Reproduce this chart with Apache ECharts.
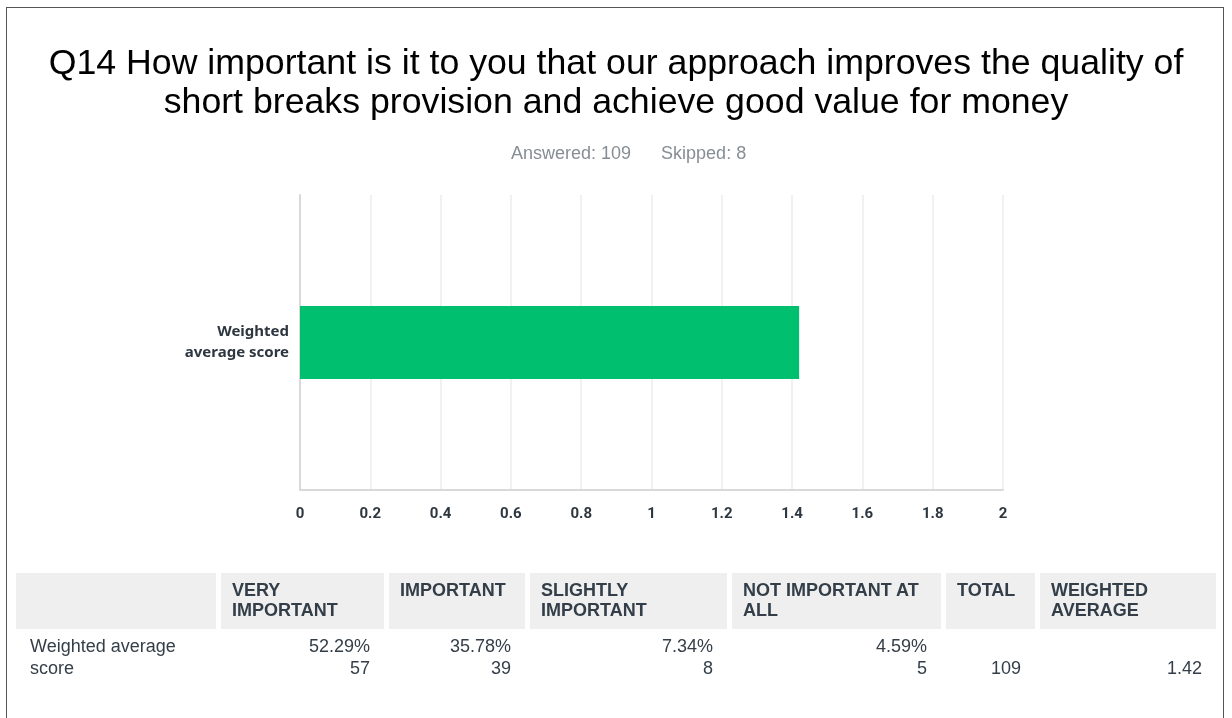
<!DOCTYPE html>
<html>
<head>
<meta charset="utf-8">
<script src="https://cdn.jsdelivr.net/npm/echarts@6/dist/echarts.min.js"></script>
<style>
  html, body { margin: 0; padding: 0; background: #fff; }
  #frame { position: absolute; left: 6px; top: 7px; width: 1216px; height: 720px; border: 1.5px solid #555; border-bottom: none; }
  #chart { position: absolute; left: 0; top: 0; width: 1232px; height: 718px; }
  #tbl { position: absolute; left: 16px; top: 573px; font-family: "Liberation Sans", Arial, sans-serif; font-size: 18px; color: #333e48; }
  .row { display: flex; gap: 5px; }
  .hd div { background: #efefef; height: 56px; box-sizing: border-box; padding: 7px 10px 0 11px; font-weight: bold; line-height: 20px; }
  .bd { margin-top: 6px; }
  .bd div { box-sizing: border-box; padding: 0 14px 0 14px; line-height: 22px; text-align: right; }
  .bd div:first-child { text-align: left; }
</style>
</head>
<body>
<div id="chart"></div>
<div id="frame"></div>
<div id="tbl"></div>
<script>
// chart data
const categories = ['Weighted\naverage score'];
const scores = [1.42];
const xTicks = [0, 0.2, 0.4, 0.6, 0.8, 1, 1.2, 1.4, 1.6, 1.8, 2];

// table data
const columns = ['', 'VERY<br>IMPORTANT', 'IMPORTANT', 'SLIGHTLY<br>IMPORTANT', 'NOT IMPORTANT AT<br>ALL', 'TOTAL', 'WEIGHTED<br>AVERAGE'];
const colWidths = [200, 163, 136, 197, 209, 89, 176];
const rowLabel = 'Weighted average<br>score';
const percents = ['52.29%', '35.78%', '7.34%', '4.59%'];
const counts = [57, 39, 8, 5];
const total = 109;
const weightedAvg = '1.42';

const chart = echarts.init(document.getElementById('chart'));
chart.setOption({
  animation: false,
  title: [{
    text: 'Q14 How important is it to you that our approach improves the quality of\nshort breaks provision and achieve good value for money',
    left: 'center',
    top: 40,
    textStyle: { fontFamily: 'Liberation Sans', fontSize: 35.7, fontWeight: 'normal', color: '#000', lineHeight: 39 }
  }, {
    text: 'Answered: 109      Skipped: 8',
    left: 506,
    top: 140,
    textStyle: { fontFamily: 'Liberation Sans', fontSize: 18, fontWeight: 'normal', color: '#868e94' }
  }],
  grid: { left: 300, right: 229, top: 195, bottom: 228 },
  xAxis: {
    type: 'value',
    min: 0,
    max: 2,
    interval: 0.2,
    axisLine: { show: true, lineStyle: { color: '#d9d9d9', width: 2 } },
    axisTick: { show: false },
    splitLine: { show: true, lineStyle: { color: '#ececec', width: 1.5 } },
    axisLabel: {
      margin: 17,
      fontFamily: 'Roboto',
      fontWeight: 'bold',
      fontSize: 15,
      color: '#2e3740',
      formatter: v => xTicks.includes(+v.toFixed(1)) ? String(+v.toFixed(1)) : ''
    }
  },
  yAxis: {
    type: 'category',
    data: categories,
    axisLine: { show: true, lineStyle: { color: '#d9d9d9', width: 2 } },
    axisTick: { show: false },
    axisLabel: {
      margin: 11,
      fontFamily: 'Noto Sans',
      fontWeight: 'bold',
      fontSize: 15,
      lineHeight: 21,
      align: 'right',
      color: '#2e3740'
    }
  },
  series: [{
    type: 'bar',
    data: scores,
    barWidth: 73,
    itemStyle: { color: '#00bf6f' }
  }]
});

// table
const hd = columns.map((c, i) => `<div style="width:${colWidths[i]}px">${c}</div>`).join('');
const cells = [rowLabel]
  .concat(percents.map((p, i) => `${p}<br>${counts[i]}`))
  .concat([`<br>${total}`, `<br>${weightedAvg}`]);
const bd = cells.map((c, i) => `<div style="width:${colWidths[i]}px">${c}</div>`).join('');
document.getElementById('tbl').innerHTML = `<div class="row hd">${hd}</div><div class="row bd">${bd}</div>`;
</script>
</body>
</html>
